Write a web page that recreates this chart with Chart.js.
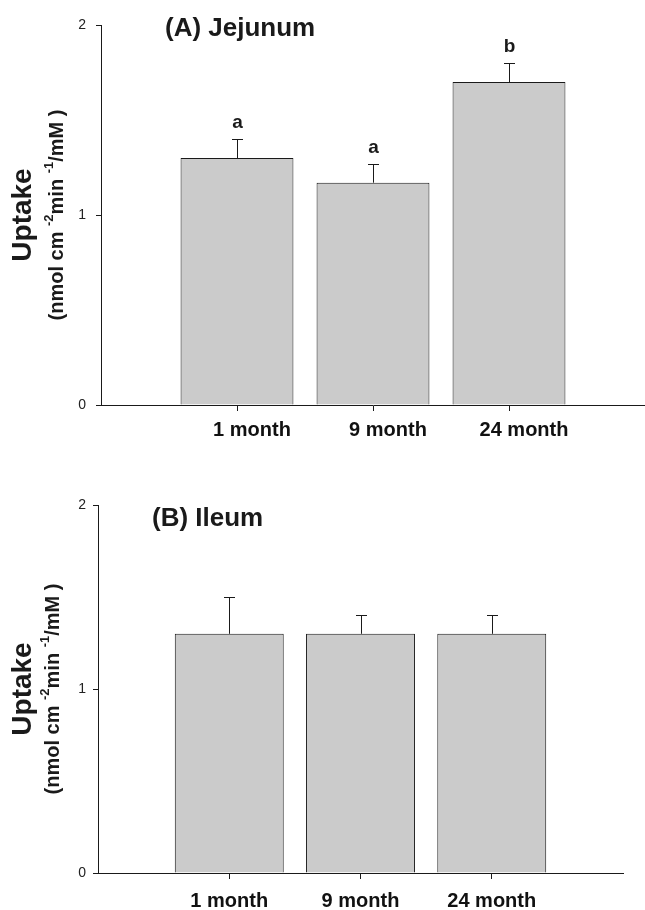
<!DOCTYPE html>
<html>
<head>
<meta charset="utf-8">
<script src="https://cdn.jsdelivr.net/npm/chart.js@4.4.0/dist/chart.umd.min.js"></script>
<style>
body { margin: 0; background: #fff; }
.panel { position: absolute; left: 0; width: 645px; height: 455px; }
</style>
</head>
<body>
<div class="panel" style="top:0"><canvas id="jejunum-chart"></canvas></div>
<div class="panel" style="top:455px"><canvas id="ileum-chart"></canvas></div>
<script>
// data
let months = ['1 month', '9 month', '24 month']
let jejunumUptake = [1.3, 1.17, 1.7]
let jejunumSem = [0.1, 0.1, 0.1]
let jejunumLetters = ['a', 'a', 'b']
let ileumUptake = [1.3, 1.3, 1.3]
let ileumSem = [0.2, 0.1, 0.1]
let ileumLetters = ['', '', '']
let yTicks = [0, 1, 2]

let fontFamily = "'Liberation Sans', Arial, Helvetica, sans-serif"
let ink = '#1a1a1a'

// error bars, letters, panel title and the rotated y title
let panelText = {
    id: 'panelText',
    afterDatasetsDraw(chart) {
        let p = chart.options.plugins.panelText
        let ctx = chart.ctx
        let xs = chart.scales.x
        let ys = chart.scales.y
        ctx.save()
        ctx.strokeStyle = ink
        ctx.fillStyle = ink
        ctx.lineWidth = 1
        p.values.forEach((v, i) => {
            let x = Math.round(xs.getPixelForValue(i + 1)) + 0.5
            let yBar = ys.getPixelForValue(v)
            let yErr = Math.round(ys.getPixelForValue(v + p.sem[i])) + 0.5
            ctx.beginPath()
            ctx.moveTo(x, yBar)
            ctx.lineTo(x, yErr)
            ctx.moveTo(x - 5.5, yErr)
            ctx.lineTo(x + 5.5, yErr)
            ctx.stroke()
            if (p.letters[i]) {
                ctx.font = 'bold 19px ' + fontFamily
                ctx.textAlign = 'center'
                ctx.textBaseline = 'alphabetic'
                ctx.fillText(p.letters[i], x, yErr - 12)
            }
        })
        ctx.restore()
    },
    afterDraw(chart) {
        let p = chart.options.plugins.panelText
        let ctx = chart.ctx
        let area = chart.chartArea
        ctx.save()
        ctx.fillStyle = ink
        ctx.font = 'bold 26px ' + fontFamily
        ctx.textAlign = 'left'
        ctx.textBaseline = 'alphabetic'
        ctx.fillText(p.title, p.titleX, p.titleY)

        let midY = (area.top + area.bottom) / 2
        ctx.translate(p.uptakeX, midY)
        ctx.rotate(-Math.PI / 2)
        ctx.textAlign = 'center'
        ctx.textBaseline = 'middle'
        ctx.font = 'bold 28px ' + fontFamily
        ctx.fillText('Uptake', 0, 0)

        // units line with superscripts
        let parts = [['(nmol cm ', false], ['-2', true], ['min ', false], ['-1', true], ['/mM )', false]]
        let mainFont = 'bold 20px ' + fontFamily
        let supFont = 'bold 13px ' + fontFamily
        let total = 0
        parts.forEach(part => {
            ctx.font = part[1] ? supFont : mainFont
            total += ctx.measureText(part[0]).width
        })
        let pos = -total / 2
        let shift = p.unitsX - p.uptakeX
        ctx.textAlign = 'left'
        parts.forEach(part => {
            ctx.font = part[1] ? supFont : mainFont
            ctx.fillText(part[0], pos, shift + (part[1] ? -8 : 0))
            pos += ctx.measureText(part[0]).width
        })
        ctx.restore()
    }
}

function uptakeChart(canvasId, panel) {
    let context = document.getElementById(canvasId).getContext('2d')
    return new Chart(context, {
        type: 'bar',
        data: {
            datasets: [{
                data: panel.values.map((v, i) => ({x: i + 1, y: v})),
                backgroundColor: '#cbcbcb',
                borderColor: ink,
                borderWidth: 1,
                borderSkipped: 'bottom',
                barPercentage: 0.83,
                categoryPercentage: 1
            }]
        },
        options: {
            responsive: true,
            maintainAspectRatio: false,
            animation: false,
            layout: {padding: {top: panel.padTop, right: panel.padRight, left: 0, bottom: 0}},
            plugins: {
                legend: {display: false},
                tooltip: {enabled: false},
                panelText: {
                    values: panel.values,
                    sem: panel.sem,
                    letters: panel.letters,
                    title: panel.title,
                    titleX: panel.titleX,
                    titleY: panel.titleY,
                    uptakeX: 23,
                    unitsX: panel.unitsX
                }
            },
            scales: {
                x: {
                    type: 'linear',
                    min: 0,
                    max: 4,
                    offset: false,
                    afterBuildTicks: s => { s.ticks = months.map((m, i) => ({value: i + 1})) },
                    afterFit: s => { s.height = panel.xHeight },
                    grid: {offset: false, drawOnChartArea: false, tickLength: 6, color: ink},
                    border: {color: ink, width: 1},
                    ticks: {
                        callback: v => months[v - 1],
                        font: {family: fontFamily, size: 20, weight: 'bold'},
                        color: '#111',
                        padding: panel.xPad,
                        labelOffset: panel.labelOffset,
                        maxRotation: 0,
                        autoSkip: false
                    }
                },
                y: {
                    min: 0,
                    max: 2,
                    afterBuildTicks: s => { s.ticks = yTicks.map(v => ({value: v})) },
                    afterFit: s => { s.width = panel.axisLeft },
                    grid: {drawOnChartArea: false, tickLength: 5, color: ink},
                    border: {color: ink, width: 1},
                    ticks: {
                        font: {family: fontFamily, size: 14},
                        color: '#222',
                        padding: panel.yPad
                    }
                }
            }
        },
        plugins: [panelText]
    })
}

uptakeChart('jejunum-chart', {
    values: jejunumUptake, sem: jejunumSem, letters: jejunumLetters,
    title: '(A) Jejunum', titleX: 165, titleY: 36,
    unitsX: 57, padTop: 25, padRight: 0, axisLeft: 101, xHeight: 50,
    xPad: 7, yPad: 10, labelOffset: 15
})

uptakeChart('ileum-chart', {
    values: ileumUptake, sem: ileumSem, letters: ileumLetters,
    title: '(B) Ileum', titleX: 152, titleY: 71,
    unitsX: 53, padTop: 50, padRight: 22, axisLeft: 98, xHeight: 37,
    xPad: 10, yPad: 7, labelOffset: 0
})
</script>
</body>
</html>
